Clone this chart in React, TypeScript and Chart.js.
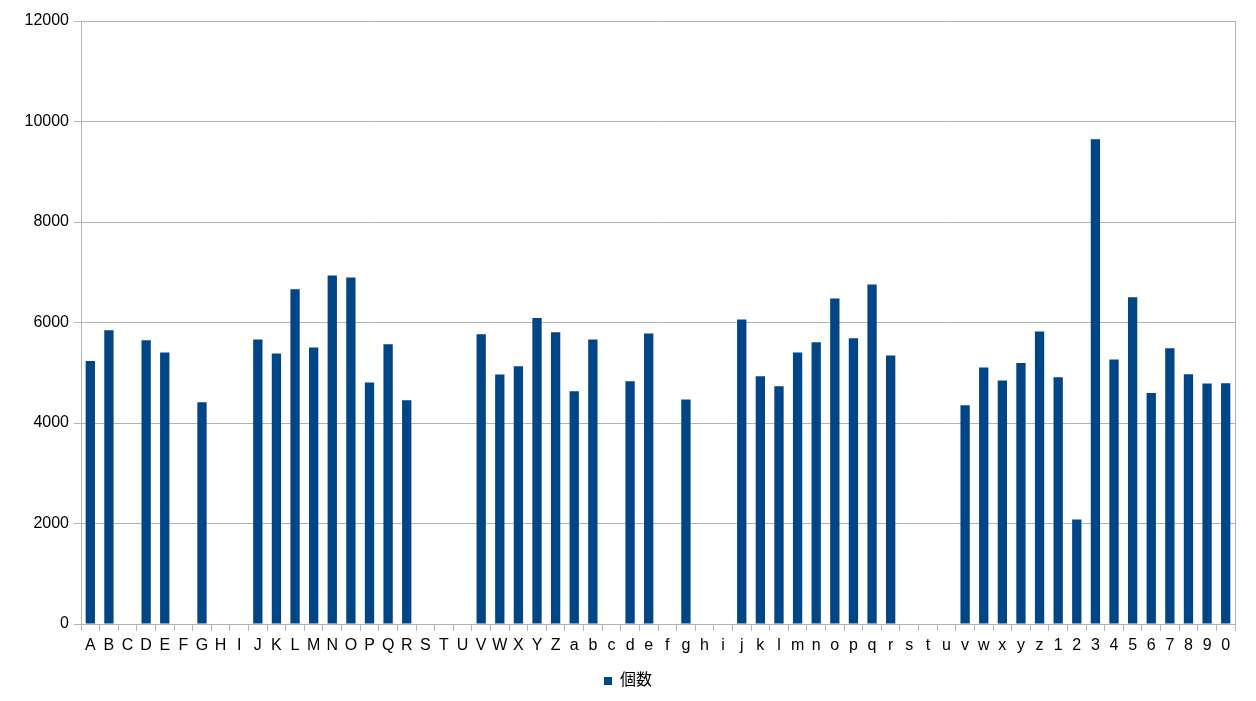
import React, { useEffect, useRef } from "react";
import { Chart, registerables } from "chart.js";

Chart.register(...registerables);

const categories: string[] = [
  "A","B","C","D","E","F","G","H","I","J","K","L","M","N","O","P","Q","R","S","T","U","V","W","X","Y","Z",
  "a","b","c","d","e","f","g","h","i","j","k","l","m","n","o","p","q","r","s","t","u","v","w","x","y","z",
  "1","2","3","4","5","6","7","8","9","0",
];

const upperCounts: number[] = [
  5235, 5847, 0, 5647, 5402, 0, 4412, 0, 0, 5661, 5382, 6663, 5502,
  6936, 6896, 4805, 5568, 4452, 0, 0, 0, 5767, 4964, 5129, 6092, 5807,
];
const lowerCounts: number[] = [
  4631, 5661, 0, 4831, 5781, 0, 4466, 0, 0, 6060, 4930, 4731, 5402,
  5608, 6478, 5687, 6757, 5342, 0, 0, 0, 4353, 5104, 4845, 5195, 5821,
];
const digitCounts: number[] = [4910, 2078, 9645, 5263, 6504, 4598, 5488, 4970, 4785, 4791];

const seriesLabel = "個数";
const yTicks: number[] = [0, 2000, 4000, 6000, 8000, 10000, 12000];

const values: number[] = [...upperCounts, ...lowerCounts, ...digitCounts];

const FONT = "'Liberation Sans', 'Noto Sans CJK JP', Arial, sans-serif";
const GRID = "#b3b3b3";

export default function App() {
  const ref = useRef<HTMLCanvasElement>(null);

  useEffect(() => {
    if (!ref.current) return;
    const chart = new Chart(ref.current, {
      type: "bar",
      data: {
        labels: categories,
        datasets: [
          {
            label: seriesLabel,
            data: values,
            backgroundColor: "#004586",
            borderWidth: 0,
            categoryPercentage: 1,
            barPercentage: 0.5,
            yAxisID: "y",
          },
        ],
      },
      options: {
        animation: false,
        responsive: false,
        maintainAspectRatio: false,
        devicePixelRatio: 1,
        layout: { padding: { left: 0, right: 0, top: 21, bottom: 2 } },
        plugins: {
          tooltip: { enabled: false },
          legend: {
            position: "bottom",
            labels: {
              boxWidth: 8,
              boxHeight: 8,
              padding: 10,
              color: "#000",
              font: { family: FONT, size: 16 },
            },
          },
        },
        scales: {
          x: {
            grid: {
              offset: true,
              drawOnChartArea: false,
              drawTicks: true,
              tickLength: 7,
              color: GRID,
            },
            border: { color: GRID },
            ticks: {
              autoSkip: false,
              maxRotation: 0,
              padding: 5,
              color: "#000",
              font: { family: FONT, size: 16 },
            },
            afterFit: (axis: any) => {
              axis.height = 39;
            },
          },
          y: {
            min: 0,
            max: 12000,
            afterBuildTicks: (axis: any) => {
              axis.ticks = yTicks.map((v) => ({ value: v }));
            },
            grid: {
              color: GRID,
              tickLength: 7,
            },
            border: { color: GRID },
            ticks: {
              padding: 5,
              color: "#000",
              font: { family: FONT, size: 16 },
              callback: (v: any) => String(v),
            },
            afterFit: (axis: any) => {
              axis.width = 81;
            },
          },
          yRight: {
            position: "right",
            min: 0,
            max: 12000,
            grid: { display: false },
            ticks: { display: false },
            border: { display: true, color: GRID },
            afterFit: (axis: any) => {
              axis.width = 21;
            },
          },
        },
      },
    });
    return () => chart.destroy();
  }, []);

  return (
    <div style={{ position: "fixed", left: 0, top: 0, width: 1256, height: 701, background: "#fff" }}>
      <canvas ref={ref} width={1256} height={701} style={{ display: "block" }} />
    </div>
  );
}
